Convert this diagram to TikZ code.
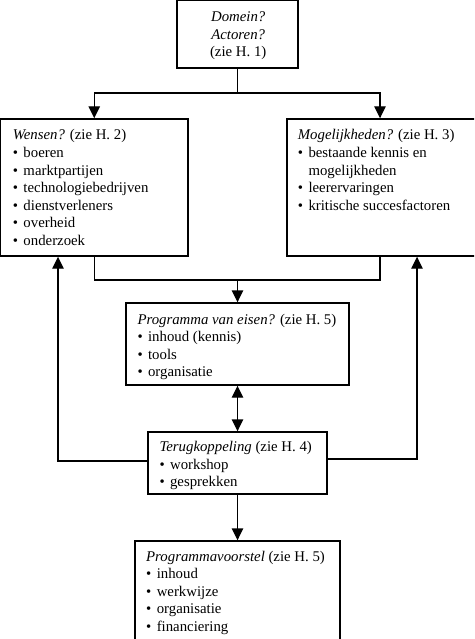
\documentclass[tikz,border=0pt]{standalone}
\usepackage{fontspec}
\setmainfont{Liberation Serif}
\usetikzlibrary{arrows.meta}
\newcommand{\Bx}[1]{\vtop{\baselineskip=17.6pt\lineskiplimit=-20pt #1}}
\newcommand{\Lin}[1]{\hbox{#1}}
\newcommand{\Bul}[1]{\hbox{\makebox[10.6pt][l]{\textbullet}#1}}
\newcommand{\Ctr}[1]{\hbox{\makebox[0pt]{#1}}}
\tikzset{
  box/.style={draw, line width=1.4pt, inner sep=0pt, fill=white},
  txt/.style={anchor=base west, inner sep=0pt, font=\fontsize{14.8pt}{17.6pt}\selectfont},
  conn/.style={line width=1.4pt},
  arr/.style={conn, -{Triangle[length=12pt,width=11.5pt]}},
  darr/.style={conn, {Triangle[length=12pt,width=11.5pt]}-{Triangle[length=12pt,width=11.5pt]}}
}
\begin{document}
\begin{tikzpicture}[x=1pt,y=-1pt]
\useasboundingbox (0,0) rectangle (474,639);
\fill[white] (0,0) rectangle (474,639);
\clip (0,0) rectangle (474,639);
% boxes
\node[box, minimum width=121pt, minimum height=67.5pt] (top) at (237.5,34.25) {};
\node[box, minimum width=187.5pt, minimum height=137pt] (wensen) at (94.25,187.5) {};
\node[box, minimum width=193pt, minimum height=137pt] (mog) at (383.5,187.5) {};
\node[box, minimum width=223pt, minimum height=82pt] (prog) at (237.5,344) {};
\node[box, minimum width=179pt, minimum height=62pt] (terug) at (237.5,463) {};
\node[box, minimum width=205pt, minimum height=139pt] (voor) at (237.5,610.5) {};
% texts
\node[txt] (ttop) at (237.5,21.5) {\Bx{\Ctr{\textit{Domein?}}\Ctr{\textit{Actoren?}}\Ctr{(zie H. 1)}}};
\node[txt] (twensen) at (12.7,140) {\Bx{\Lin{\textit{Wensen?} (zie H. 2)}\Bul{boeren}\Bul{marktpartijen}\Bul{technologiebedrijven}\Bul{dienstverleners}\Bul{overheid}\Bul{onderzoek}}};
\node[txt] (tmog) at (297.7,140) {\Bx{\Lin{\textit{Mogelijkheden?} (zie H. 3)}\Bul{bestaande kennis en}\Lin{\hspace*{10.6pt}mogelijkheden}\Bul{leerervaringen}\Bul{kritische succesfactoren}}};
\node[txt] (tprog) at (137.3,324) {\Bx{\Lin{\textit{Programma van eisen?} (zie H. 5)}\Bul{inhoud (kennis)}\Bul{tools}\Bul{organisatie}}};
\node[txt] (tterug) at (159.3,451.7) {\Bx{\Lin{\textit{Terugkoppeling} (zie H. 4)}\Bul{workshop}\Bul{gesprekken}}};
\node[txt] (tvoor) at (146,561) {\Bx{\Lin{\textit{Programmavoorstel} (zie H. 5)}\Bul{inhoud}\Bul{werkwijze}\Bul{organisatie}\Bul{financiering}}};
% junctions
\coordinate (j1) at (237.5,93);
\coordinate (j2) at (237.5,280);
% connectors
\draw[conn] (top.south) -- (j1);
\draw[arr] (j1) -| (wensen.north);
\draw[arr] (j1) -| ([xshift=-3.5pt]mog.north);
\draw[conn] (wensen.south) |- (j2) -| ([xshift=-3.5pt]mog.south);
\draw[arr] (j2) -- (prog.north);
\draw[darr] (prog.south) -- (terug.north);
\draw[arr] ([yshift=2pt]terug.west) -| ([xshift=-36.25pt]wensen.south);
\draw[arr] ([yshift=4pt]terug.east) -| ([xshift=33.5pt]mog.south);
\draw[arr] (terug.south) -- (voor.north);
\end{tikzpicture}
\end{document}
